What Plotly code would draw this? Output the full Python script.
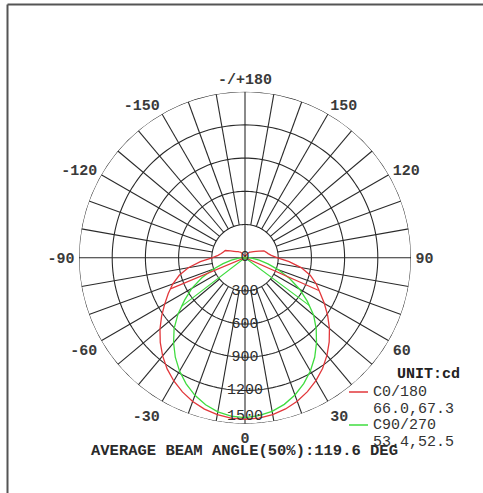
import plotly.graph_objects as go

# ---------------- data ----------------
gamma = list(range(0, 181, 5))  # vertical angle, degrees

c0 = [1460, 1455, 1440, 1415, 1380, 1335, 1282, 1222, 1152, 1076, 996, 912, 828, 748, 683,
      610, 515, 400, 288, 238, 212, 196, 182, 140, 113, 95, 82, 72, 66, 52, 36, 26, 18, 12,
      9, 6, 5]
c180 = [1460, 1455, 1440, 1416, 1382, 1338, 1286, 1227, 1158, 1083, 1003, 920, 838, 765, 695,
        615, 520, 405, 292, 245, 218, 202, 190, 145, 115, 96, 84, 74, 67, 53, 37, 26, 18, 12,
        9, 6, 5]
c90 = [1440, 1432, 1410, 1372, 1320, 1256, 1182, 1098, 1005, 910, 810, 688, 570, 445, 322,
       215, 130, 70, 35, 20, 14, 12, 10, 9, 8, 8, 7, 7, 7, 6, 6, 6, 6, 6, 6, 6, 6]
c270 = [1445, 1437, 1414, 1376, 1323, 1258, 1183, 1098, 1004, 906, 790, 665, 555, 430, 310,
        205, 125, 65, 32, 20, 14, 12, 10, 9, 8, 8, 7, 7, 7, 6, 6, 6, 6, 6, 6, 6, 6]

beam_c0_180 = [66.0, 67.3]
beam_c90_270 = [53.4, 52.5]
avg_beam = 119.6

radial_ticks = [0, 300, 600, 900, 1200, 1500]
angle_tickvals = [0, 30, 60, 90, 120, 150, 180, 210, 240, 270, 300, 330]
angle_ticktext = ["0", "30", "60", "90", "120", "150", "-/+180", "-150", "-120", "-90", "-60", "-30"]

RED = "#e2373b"
GREEN = "#3fdc3f"
GRID = "#2a2a2a"
TXT = "#333333"
FONT = "Liberation Mono"

fig = go.Figure()

# ---------------- grid ----------------
full = list(range(0, 361, 2))
for rv in radial_ticks[1:]:
    fig.add_trace(go.Scatterpolar(r=[rv] * len(full), theta=full, mode="lines",
                                  line=dict(color=GRID, width=1.1), hoverinfo="skip"))
sr, st = [], []
for a in range(0, 360, 10):
    if a % 90 == 0:
        sr += [0, radial_ticks[-1], None]
    else:
        sr += [radial_ticks[1], radial_ticks[-1], None]
    st += [a, a, None]
fig.add_trace(go.Scatterpolar(r=sr, theta=st, mode="lines",
                              line=dict(color=GRID, width=1.1), hoverinfo="skip"))

# ---------------- curves ----------------
def full_curve(right, left):
    th = [-g for g in gamma[::-1]] + gamma[1:]
    rr = left[::-1] + right[1:]
    return th, rr

th, rr = full_curve(c0, c180)
fig.add_trace(go.Scatterpolar(r=rr, theta=th, mode="lines", line=dict(color=RED, width=1.3)))
th, rr = full_curve(c90, c270)
fig.add_trace(go.Scatterpolar(r=rr, theta=th, mode="lines", line=dict(color=GREEN, width=1.3)))

# beam-angle (50%) lines
half_red = max(c0[0], c180[0]) / 2
half_green = max(c90[0], c270[0]) / 2
fig.add_trace(go.Scatterpolar(r=[half_red, 0, half_red],
                              theta=[-beam_c0_180[1], 0, beam_c0_180[0]],
                              mode="lines", line=dict(color=RED, width=1.1)))
fig.add_trace(go.Scatterpolar(r=[half_green, 0, half_green],
                              theta=[-beam_c90_270[1], 0, beam_c90_270[0]],
                              mode="lines", line=dict(color=GREEN, width=1.1)))

# radial value labels
fig.add_trace(go.Scatterpolar(r=radial_ticks, theta=[0] * len(radial_ticks), mode="text",
                              text=[str(v) for v in radial_ticks],
                              textposition=["middle center"] * 5 + ["top center"],
                              textfont=dict(family=FONT, size=15, color="#2e2e2e"),
                              hoverinfo="skip"))

W, H = 483, 493
cx, cy, R = 245, 257.7, 166
fig.update_layout(
    width=W, height=H,
    margin=dict(l=0, r=0, t=0, b=0),
    paper_bgcolor="white", plot_bgcolor="white",
    showlegend=False,
    polar=dict(
        domain=dict(x=[(cx - R) / W, (cx + R) / W], y=[(H - cy - R) / H, (H - cy + R) / H]),
        bgcolor="white",
        radialaxis=dict(range=[0, 1500], visible=False, showgrid=False),
        angularaxis=dict(rotation=270, direction="counterclockwise",
                         tickmode="array", tickvals=angle_tickvals,
                         ticktext=[f"<b>{t}</b>" for t in angle_ticktext],
                         showgrid=False, showline=False, ticks="outside", ticklen=1,
                         tickcolor="rgba(0,0,0,0)",
                         tickfont=dict(family=FONT, size=15, color="#3a3a3a")),
    ),
)

def px(x, y):
    return x / W, 1 - y / H

ann = []
def add_text(x, y, s, anchor="left", bold=False, color=TXT, size=15):
    ax, ay = px(x, y)
    ann.append(dict(x=ax, y=ay, xref="paper", yref="paper", text=f"<b>{s}</b>" if bold else s,
                    showarrow=False, xanchor=anchor, yanchor="middle",
                    font=dict(family=FONT, size=size, color=color)))

add_text(395, 374, "UNIT:cd", bold=True, color="#222222")
add_text(371, 392, "C0/180")
add_text(371, 409, f"{beam_c0_180[0]:.1f},{beam_c0_180[1]:.1f}")
add_text(371, 425, "C90/270")
add_text(371, 442, f"{beam_c90_270[0]:.1f},{beam_c90_270[1]:.1f}")
add_text(244, 450.5, f"AVERAGE BEAM ANGLE(50%):{avg_beam} DEG", anchor="center", bold=True,
         color="#2a2a2a", size=15.5)
fig.update_layout(annotations=ann)

shapes = []
for (x0, x1, y, c) in [(349, 368, 392, RED), (349, 368, 425, GREEN)]:
    a0, b0 = px(x0, y)
    a1, _ = px(x1, y)
    shapes.append(dict(type="line", xref="paper", yref="paper", x0=a0, x1=a1, y0=b0, y1=b0,
                       line=dict(color=c, width=1.5)))
# frame (left and top edges)
l, t = px(7.5, 4.5)
shapes.append(dict(type="line", xref="paper", yref="paper", x0=l, x1=l, y0=0, y1=t,
                   line=dict(color="#555555", width=2)))
shapes.append(dict(type="line", xref="paper", yref="paper", x0=l, x1=1, y0=t, y1=t,
                   line=dict(color="#555555", width=2)))
fig.update_layout(shapes=shapes)

fig.write_html("out.html", config={"displayModeBar": False},
               post_script="document.body.style.margin='0';document.body.style.overflow='hidden';")
